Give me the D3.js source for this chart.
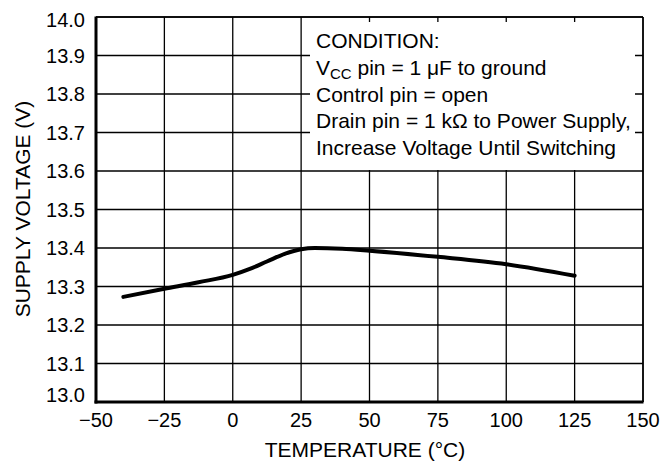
<!DOCTYPE html>
<html><head><meta charset="utf-8">
<script src="https://cdn.jsdelivr.net/npm/d3@7"></script>
<style>body{margin:0;background:#fff}svg{display:block}text{font-family:"Liberation Sans",Arial,sans-serif;fill:#000}</style>
</head><body><svg width="661" height="465"></svg>
<script>
const temps = [-40, -25, -12.5, 0, 6, 12.5, 19, 25, 30, 40, 50, 75, 100, 125];
const volts = [13.273, 13.294, 13.311, 13.33, 13.345, 13.365, 13.385, 13.397, 13.4, 13.398, 13.393, 13.377, 13.358, 13.328];
const xTicks = [-50, -25, 0, 25, 50, 75, 100, 125, 150];
const yTicks = [13.0, 13.1, 13.2, 13.3, 13.4, 13.5, 13.6, 13.7, 13.8, 13.9, 14.0];

const svg = d3.select("svg");
const L = 96, R = 643, T = 17, B = 402;
const x = d3.scaleLinear().domain([-50, 150]).range([L, R]);
const y = d3.scaleLinear().domain([13.0, 14.0]).range([B, T]);

// grid
svg.append("g").selectAll("line").data(xTicks.slice(1)).join("line")
  .attr("x1", d => x(d)).attr("x2", d => x(d)).attr("y1", T).attr("y2", B)
  .attr("stroke", "#000").attr("stroke-width", 1.3);
svg.append("g").selectAll("line").data(yTicks.slice(1)).join("line")
  .attr("x1", L).attr("x2", R).attr("y1", d => y(d)).attr("y2", d => y(d))
  .attr("stroke", "#000").attr("stroke-width", 1.3);

// condition box
svg.append("rect").attr("x", 310).attr("y", 22).attr("width", 325).attr("height", 148).attr("fill", "#fff");
const tx = 316, ty0 = 48, dy = 26.75;
const txt = svg.append("g").attr("font-size", 21);
txt.append("text").attr("x", tx).attr("y", ty0).text("CONDITION:");
const t2 = txt.append("text").attr("x", tx).attr("y", ty0 + dy);
t2.append("tspan").text("V");
t2.append("tspan").attr("font-size", 15).attr("dy", 4).text("CC");
t2.append("tspan").attr("dy", -4).text(" pin = 1 \u03BCF to ground");
txt.append("text").attr("x", tx).attr("y", ty0 + 2 * dy).text("Control pin = open");
txt.append("text").attr("x", tx).attr("y", ty0 + 3 * dy).text("Drain pin = 1 k\u03A9 to Power Supply,");
txt.append("text").attr("x", tx).attr("y", ty0 + 4 * dy).text("Increase Voltage Until Switching");

// frame
svg.append("line").attr("x1", L).attr("x2", R).attr("y1", T).attr("y2", T).attr("stroke", "#000").attr("stroke-width", 1.5);
svg.append("line").attr("x1", R).attr("x2", R).attr("y1", T).attr("y2", B).attr("stroke", "#000").attr("stroke-width", 1.5);
svg.append("line").attr("x1", L).attr("x2", L).attr("y1", T - 0.5).attr("y2", B + 1.5).attr("stroke", "#000").attr("stroke-width", 3);
svg.append("line").attr("x1", L - 1.5).attr("x2", R + 0.5).attr("y1", B).attr("y2", B).attr("stroke", "#000").attr("stroke-width", 3);

// curve
const data = temps.map((t, i) => [t, volts[i]]);
svg.append("path").datum(data)
  .attr("d", d3.line().x(d => x(d[0])).y(d => y(d[1])).curve(d3.curveMonotoneX))
  .attr("fill", "none").attr("stroke", "#000").attr("stroke-width", 4).attr("stroke-linecap", "round");

// tick labels
svg.append("g").attr("font-size", 20).selectAll("text").data(yTicks).join("text")
  .attr("x", L - 11)
  .attr("y", d => y(d) + 7 + (d === 13.0 ? -7 : d === 14.0 ? 3 : 0))
  .attr("text-anchor", "end").text(d => d.toFixed(1));
svg.append("g").attr("font-size", 20).selectAll("text").data(xTicks).join("text")
  .attr("x", d => x(d)).attr("y", 427).attr("text-anchor", "middle")
  .text(d => d < 0 ? "\u2212" + Math.abs(d) : d);

// axis titles
svg.append("text").attr("x", 365).attr("y", 457).attr("text-anchor", "middle").attr("font-size", 21)
  .text("TEMPERATURE (\u00B0C)");
svg.append("text").attr("transform", `translate(30,209) rotate(-90)`).attr("text-anchor", "middle").attr("font-size", 21)
  .text("SUPPLY VOLTAGE (V)");
</script></body></html>
